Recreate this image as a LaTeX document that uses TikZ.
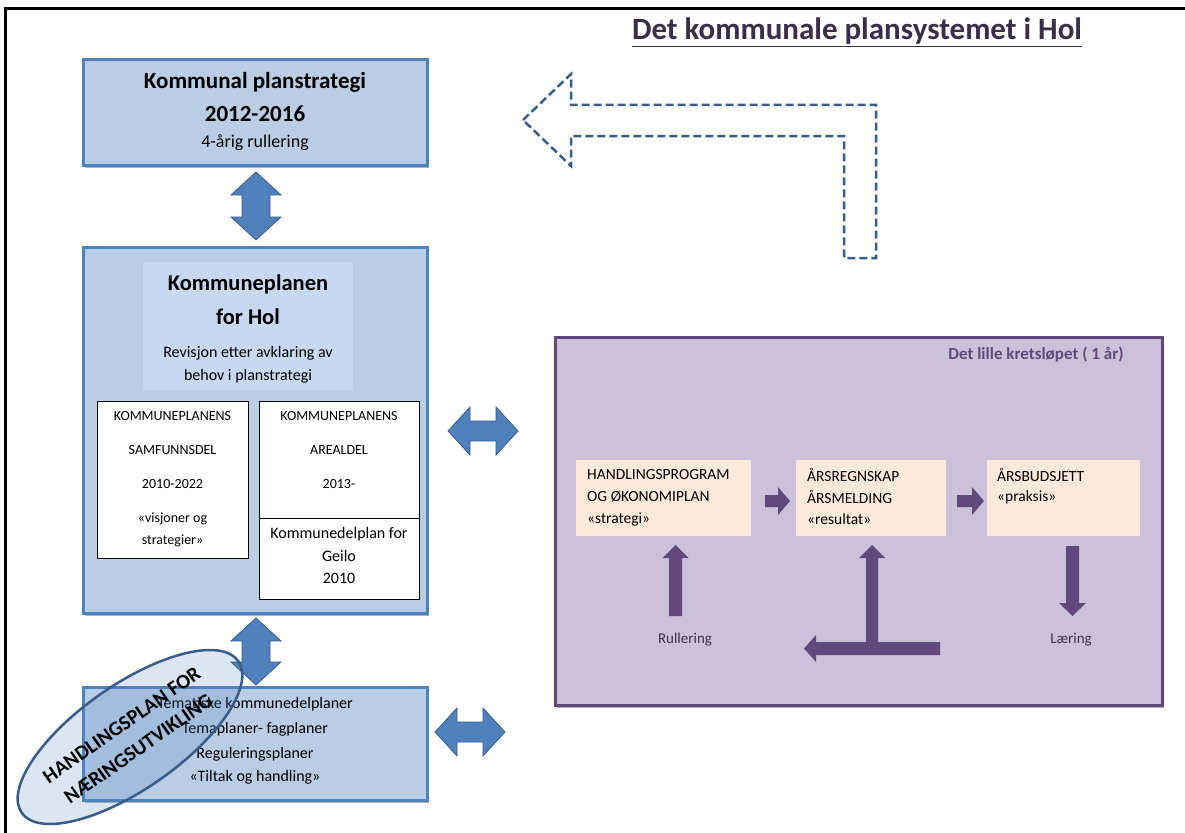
\documentclass[tikz,border=0pt]{standalone}
\usepackage{fontspec}
\setmainfont{Carlito}
\usetikzlibrary{shapes.geometric,shadows}
\definecolor{bfill}{HTML}{B9CDE5}
\definecolor{bdraw}{HTML}{4F81BD}
\definecolor{binner}{HTML}{C6D9F1}
\definecolor{afill}{HTML}{4F81BD}
\definecolor{adraw}{HTML}{385D8A}
\definecolor{pfill}{HTML}{CCC1DA}
\definecolor{pdraw}{HTML}{5F497A}
\definecolor{parr}{HTML}{604A7B}
\definecolor{peachc}{HTML}{FDE9D9}
\definecolor{titlec}{HTML}{3A2F4A}
\definecolor{ptext}{HTML}{3F3151}
\newcommand\FS[2]{\fontsize{#1}{#2}\selectfont}
\newcommand\VDArrow[3]{% cx, ytop, ybot
  \path[barrow] (#1,#2) -- ({#1+25},{#2+23}) -- ({#1+14},{#2+23}) -- ({#1+14},{#3-23}) -- ({#1+25},{#3-23}) -- (#1,#3) -- ({#1-25},{#3-23}) -- ({#1-14},{#3-23}) -- ({#1-14},{#2+23}) -- ({#1-25},{#2+23}) -- cycle;}
\newcommand\HDArrow[3]{% cy, xleft, xright
  \path[barrow] (#2,#1) -- ({#2+22},{#1-24}) -- ({#2+22},{#1-10}) -- ({#3-22},{#1-10}) -- ({#3-22},{#1-24}) -- (#3,#1) -- ({#3-22},{#1+24}) -- ({#3-22},{#1+10}) -- ({#2+22},{#1+10}) -- ({#2+22},{#1+24}) -- cycle;}
\newcommand\RArrow[3]{% xl, xr, cy
  \path[parrow] (#1,{#3-6}) -- ({#2-12},{#3-6}) -- ({#2-12},{#3-14}) -- (#2,#3) -- ({#2-12},{#3+14}) -- ({#2-12},{#3+6}) -- (#1,{#3+6}) -- cycle;}
\begin{document}
\begin{tikzpicture}[x=1pt,y=-1pt,
  bluebox/.style={draw=bdraw, line width=3pt, fill=bfill,
    drop shadow={shadow xshift=2pt, shadow yshift=-3pt, opacity=0.3, fill=black}},
  whitebox/.style={draw=black, line width=0.8pt, fill=white},
  barrow/.style={fill=afill, draw=adraw, line width=0.8pt},
  parrow/.style={fill=parr},
  peach/.style={fill=peachc, minimum height=76pt},
  tb/.style={font=\FS{23}{26}\bfseries, inner sep=0pt},
  tm/.style={font=\FS{16}{19}, inner sep=0pt},
  ts/.style={font=\FS{14}{17}, inner sep=0pt},
  tp/.style={font=\FS{15.5}{18}, inner sep=0pt, anchor=west},
  tl/.style={font=\FS{15}{18}, inner sep=0pt, text=ptext}]
\useasboundingbox (0,0) rectangle (1185,832);
% frame
\draw[line width=3pt] (5,833) -- (5,8.5) -- (1186,8.5);
% title
\node[font=\FS{31}{36}\bfseries, text=titlec, inner sep=0pt] (title) at (857,32) {\underline{Det kommunale plansystemet i Hol}};

% dashed bent arrow
\draw[dashed, dash pattern=on 8pt off 4pt, line width=2.5pt, draw=adraw]
  (523,120) -- (571,74) -- (571,105) -- (876,105) -- (876,258) -- (844,258) -- (844,136) -- (571,136) -- (571,166) -- cycle;

% box 1
\node[bluebox, minimum width=344pt, minimum height=105pt] (ps) at (255,112.5) {};
\node[tb] (ps1) at (255,82) {Kommunal planstrategi};
\node[tb] (ps2) at (255,114) {2012-2016};
\node[font=\FS{18}{21}, inner sep=0pt] (ps3) at (255,143) {4-årig rullering};

\VDArrow{256}{172}{240}

% box 2
\node[bluebox, minimum width=344pt, minimum height=366pt] (kp) at (255,430) {};
\node[fill=binner, minimum width=210pt, minimum height=128pt, inner sep=0pt] (kpi) at (248,326) {};
\node[font=\FS{22.5}{26}\bfseries, inner sep=0pt] (kp1) at (248,284) {Kommuneplanen};
\node[font=\FS{22.5}{26}\bfseries, inner sep=0pt] (kp2) at (248,317) {for Hol};
\node[tm] (kp3) at (248,353) {Revisjon etter avklaring av};
\node[tm] (kp4) at (248,376) {behov i planstrategi};

\node[whitebox, minimum width=151pt, minimum height=157pt] (sd) at (172.5,479.5) {};
\node[ts] at (172.5,416) {KOMMUNEPLANENS};
\node[ts] at (172.5,450) {SAMFUNNSDEL};
\node[ts] at (172.5,484) {2010-2022};
\node[ts] at (172.5,519) {«visjoner og};
\node[ts] at (172.5,541) {strategier»};

\node[whitebox, minimum width=160pt, minimum height=117pt] (ad) at (339,459.5) {};
\node[ts] at (339,416) {KOMMUNEPLANENS};
\node[ts] at (339,450) {AREALDEL};
\node[ts] at (339,484) {2013-};

\node[whitebox, minimum width=160pt, minimum height=81pt] (gd) at (339,558.5) {};
\node[tm] at (339,534) {Kommunedelplan for};
\node[tm] at (339,556) {Geilo};
\node[tm] at (339,578) {2010};

\VDArrow{256}{618}{685}

% box 3
\node[bluebox, minimum width=344pt, minimum height=113pt] (tp) at (255,743.5) {};
\node[tm] at (255,704) {Tematiske kommunedelplaner};
\node[tm] at (255,729) {Temaplaner- fagplaner};
\node[tm] at (255,754) {Reguleringsplaner};
\node[tm] at (255,777) {«Tiltak og handling»};

% ellipse
\node[ellipse, draw=adraw, line width=2.5pt, fill=afill, fill opacity=0.2, text opacity=1,
  rotate=35, minimum width=260pt, minimum height=104pt, inner sep=0pt, align=center,
  font=\FS{20.5}{29}\bfseries] (hp) at (130,737) {HANDLINGSPLAN FOR\\NÆRINGSUTVIKLING};

% horizontal double arrows
\HDArrow{431}{448}{518}
\HDArrow{732}{435}{505}

% purple box
\node[draw=pdraw, line width=3pt, fill=pfill, minimum width=607pt, minimum height=368pt,
  drop shadow={shadow xshift=2pt, shadow yshift=-3pt, opacity=0.3, fill=black}] (lk) at (858.5,521) {};
\node[font=\FS{17}{20}\bfseries, text=parr, inner sep=0pt] (lkt) at (1036,355) {Det lille kretsløpet ( 1 år)};

\node[peach, minimum width=175pt] (p1) at (663.5,498) {};
\node[peach, minimum width=150pt] (p2) at (871,498) {};
\node[peach, minimum width=153pt] (p3) at (1063.5,498) {};
\node[tp] at (587,475) {HANDLINGSPROGRAM};
\node[tp] at (587,497) {OG ØKONOMIPLAN};
\node[tp] at (587,519) {«strategi»};
\node[tp] at (807,475) {ÅRSREGNSKAP};
\node[tp] at (807,497) {ÅRSMELDING};
\node[tp] at (807,519) {«resultat»};
\node[tp] at (997,475) {ÅRSBUDSJETT};
\node[tp] at (997,497) {«praksis»};

\RArrow{765}{790}{501}
\RArrow{957}{984}{501}

% up arrow under p1
\path[parrow] (675.5,545) -- (688.5,558) -- (682,558) -- (682,616) -- (669,616) -- (669,558) -- (662.5,558) -- cycle;
% T arrow
\path[parrow] (872,545) -- (885,558) -- (878,558) -- (878,642) -- (940,642) -- (940,655) -- (816,655) -- (816,662) -- (804,648.5) -- (816,635) -- (816,642) -- (866,642) -- (866,558) -- (859,558) -- cycle;
% down arrow under p3
\path[parrow] (1066,546) -- (1079,546) -- (1079,603) -- (1086,603) -- (1072.5,616) -- (1059,603) -- (1066,603) -- cycle;

\node[tl] (rul) at (685,640) {Rullering};
\node[tl] (lae) at (1071,640) {Læring};
\end{tikzpicture}
\end{document}
